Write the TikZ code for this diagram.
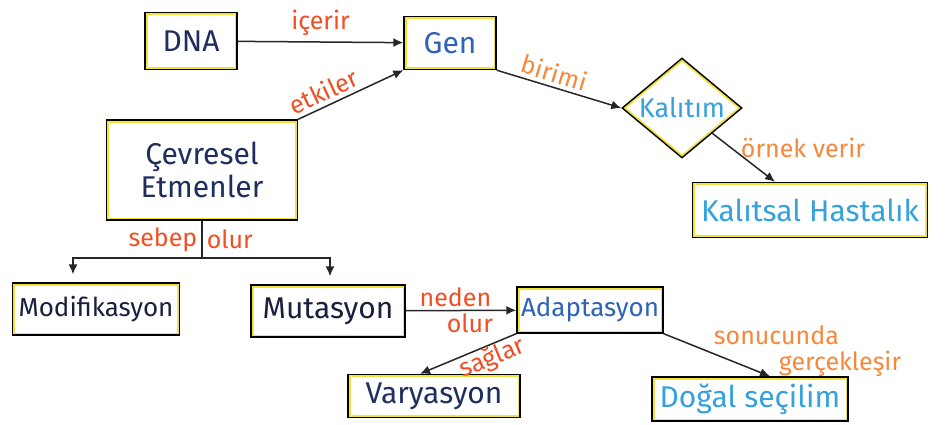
\documentclass[tikz,border=0pt]{standalone}
\usepackage{fontspec}
\setmainfont{Fira Sans}
\usepackage{tikz}
\usetikzlibrary{shapes.geometric,arrows.meta,calc}
\definecolor{navy}{HTML}{1E2F5E}
\definecolor{inky}{HTML}{1A1F3D}
\definecolor{genblue}{HTML}{2E63B8}
\definecolor{skyblue}{HTML}{35A2DD}
\definecolor{boxyellow}{HTML}{F2E23C}
\definecolor{redlab}{HTML}{F04E23}
\definecolor{orangelab}{HTML}{F5883A}
\tikzset{
  cnode/.style = {rectangle, draw=black, line width=1.4pt, fill=white, inner sep=1pt, align=center,
    text=navy, font=\fontsize{30}{33}\selectfont,
    path picture={\draw[boxyellow, line width=5pt] (path picture bounding box.south west) rectangle (path picture bounding box.north east);}},
  cdiamond/.style = {diamond, draw=black, line width=1.4pt, fill=white, inner sep=0pt, shape aspect=1.2,
    text=skyblue, font=\fontsize{27}{31}\selectfont,
    path picture={\draw[boxyellow, line width=5pt] (path picture bounding box.north) -- (path picture bounding box.east)
      -- (path picture bounding box.south) -- (path picture bounding box.west) -- cycle;}},
  clabel/.style = {inner sep=1pt, font=\fontsize{25}{26}\selectfont},
  rlabel/.style = {clabel, text=redlab},
  olabel/.style = {clabel, text=orangelab},
  carrow/.style = {draw=black!85, line width=1.5pt, -{Latex[length=10pt,width=9pt]}},
  cline/.style = {draw=black!85, line width=1.5pt},
}
\begin{document}
\begin{tikzpicture}[x=1pt, y=-1pt]
\useasboundingbox (0,0) rectangle (946,424);
% concept boxes
\node [cnode, minimum width=92pt, minimum height=57pt] (dna) at (191,41) {DNA};
\node [cnode, minimum width=92pt, minimum height=53pt, text=genblue] (gen) at (450,43) {Gen};
\node [cnode, minimum width=191pt, minimum height=100pt] (cevre) at (202,170) {Çevresel\\Etmenler};
\node [cdiamond, minimum width=120pt, minimum height=100pt] (kalitim) at (682,108) {Kalıtım};
\node [cnode, minimum width=235pt, minimum height=55pt, text=skyblue] (hastalik) at (810,210) {Kalıtsal Hastalık};
\node [cnode, minimum width=167pt, minimum height=52pt, text=inky, font=\fontsize{26}{29}\selectfont] (modif) at (96,309) {Modifikasyon};
\node [cnode, minimum width=154pt, minimum height=52pt, text=inky] (mutasyon) at (328,311) {Mutasyon};
\node [cnode, minimum width=146pt, minimum height=46pt, text=genblue, font=\fontsize{26}{29}\selectfont] (adapt) at (590,310) {Adaptasyon};
\node [cnode, minimum width=172pt, minimum height=43pt] (varyas) at (434,396) {Varyasyon};
\node [cnode, minimum width=196pt, minimum height=44pt, text=skyblue] (dogal) at (750,399) {Doğal seçilim};

% links
\draw [carrow] (dna) -- node [rlabel, above=5pt] {içerir} (gen);
\draw [carrow] (cevre.north east) -- node [rlabel, sloped, above=3pt, pos=0.3] {etkiler} (gen.south west);
\draw [carrow] (gen.south east) -- node [olabel, sloped, above=3pt, pos=0.43] {birimi} (kalitim.west);
\draw [carrow] (kalitim.south east) -- node [olabel, right=8pt, pos=0.3] {örnek verir} ($(hastalik.north)+(-35,0)$);

\coordinate (split) at (cevre.south |- 0,258);
\draw [cline] (cevre.south) -- node [rlabel, left=3pt] {sebep} node [rlabel, right=3pt] {olur} (split);
\draw [carrow, shorten >=8pt] (split) -| ($(modif.north)+(-23,0)$);
\draw [carrow, shorten >=8pt] (split) -| ($(mutasyon.north)+(2,0)$);

\draw [carrow] (mutasyon) -- node [rlabel, above=2pt, pos=0.45] {neden} node [rlabel, below=2pt, pos=0.58] {olur} (adapt);
\draw [carrow] (adapt.south west) -- node [rlabel, sloped, below=-1pt, pos=0.3] {sağlar} ($(varyas.north)+(-14,0)$);
\draw [carrow] (adapt.south east) -- node [olabel, right=6pt, pos=0.4, align=left] {sonucunda\\\hspace*{2.6em}gerçekleşir} ($(dogal.north)+(20,0)$);
\end{tikzpicture}
\end{document}
